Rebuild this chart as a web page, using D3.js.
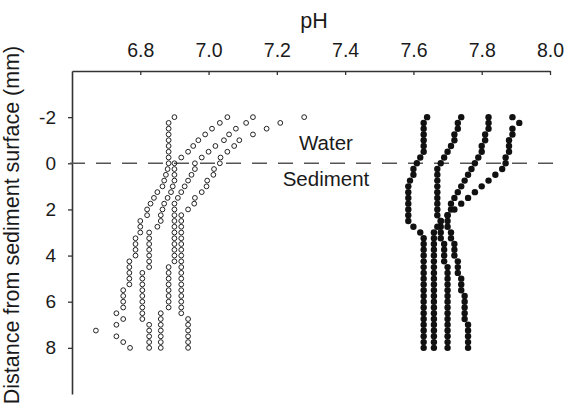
<!DOCTYPE html>
<html>
<head>
<meta charset="utf-8">
<script src="https://cdn.jsdelivr.net/npm/d3@7"></script>
<style>
  body { margin: 0; background: #fff; }
  svg { display: block; font-family: "Liberation Sans", Arial, sans-serif; }
</style>
</head>
<body>
<svg id="chart" width="568" height="410"></svg>
<script>
// depth of each reading (mm), same for every profile
const depths = [-2, -1.75, -1.5, -1.25, -1, -0.75, -0.5, -0.25, 0, 0.25, 0.5, 0.75, 1, 1.25, 1.5, 1.75, 2, 2.25, 2.5, 2.75, 3, 3.25, 3.5, 3.75, 4, 4.25, 4.5, 4.75, 5, 5.25, 5.5, 5.75, 6, 6.25, 6.5, 6.75, 7, 7.25, 7.5, 7.75, 8];

// open circles (one array per profile)
const open1 = [6.90, 6.883, 6.883, 6.883, 6.883, 6.883, 6.883, 6.883, 6.883, 6.88, 6.875, 6.87, 6.865, 6.85, 6.84, 6.83, 6.82, 6.82, 6.80, 6.80, 6.80, 6.786, 6.786, 6.786, 6.786, 6.768, 6.768, 6.768, 6.768, 6.768, 6.75, 6.75, 6.75, 6.75, 6.73, 6.75, 6.73, 6.67, 6.73, 6.75, 6.77];
const open2 = [7.055, 7.033, 7.01, 6.99, 6.97, 6.955, 6.94, 6.92, 6.90, 6.90, 6.90, 6.90, 6.895, 6.89, 6.88, 6.87, 6.865, 6.86, 6.86, 6.85, 6.826, 6.826, 6.826, 6.826, 6.826, 6.826, 6.826, 6.806, 6.806, 6.806, 6.806, 6.806, 6.806, 6.806, 6.806, 6.806, 6.826, 6.826, 6.826, 6.826, 6.826];
const open3 = [7.13, 7.11, 7.08, 7.06, 7.045, 7.02, 7.0, 6.98, 6.96, 6.96, 6.95, 6.94, 6.93, 6.92, 6.91, 6.90, 6.90, 6.90, 6.90, 6.90, 6.90, 6.90, 6.90, 6.90, 6.90, 6.90, 6.883, 6.883, 6.883, 6.883, 6.883, 6.883, 6.883, 6.883, 6.86, 6.86, 6.86, 6.86, 6.86, 6.86, 6.86];
const open4 = [7.28, 7.21, 7.17, 7.13, 7.09, 7.075, 7.055, 7.035, 7.033, 7.016, 7.014, 6.996, 6.994, 6.98, 6.96, 6.958, 6.94, 6.92, 6.92, 6.92, 6.92, 6.92, 6.92, 6.92, 6.92, 6.92, 6.92, 6.92, 6.92, 6.92, 6.92, 6.92, 6.92, 6.92, 6.92, 6.94, 6.94, 6.94, 6.94, 6.94, 6.94];

// filled circles
const filled1 = [7.64, 7.63, 7.63, 7.63, 7.63, 7.63, 7.63, 7.62, 7.61, 7.60, 7.60, 7.59, 7.585, 7.585, 7.585, 7.585, 7.585, 7.585, 7.585, 7.60, 7.62, 7.63, 7.63, 7.63, 7.63, 7.63, 7.63, 7.63, 7.63, 7.63, 7.63, 7.63, 7.63, 7.63, 7.63, 7.63, 7.63, 7.63, 7.63, 7.63, 7.63];
const filled2 = [7.74, 7.73, 7.73, 7.72, 7.72, 7.71, 7.70, 7.69, 7.68, 7.67, 7.67, 7.67, 7.67, 7.67, 7.67, 7.67, 7.67, 7.67, 7.68, 7.68, 7.68, 7.68, 7.69, 7.69, 7.69, 7.69, 7.70, 7.70, 7.70, 7.70, 7.70, 7.70, 7.70, 7.70, 7.70, 7.70, 7.70, 7.70, 7.70, 7.70, 7.70];
const filled3 = [7.82, 7.82, 7.82, 7.81, 7.81, 7.80, 7.80, 7.79, 7.78, 7.77, 7.76, 7.75, 7.74, 7.73, 7.72, 7.71, 7.71, 7.70, 7.70, 7.70, 7.71, 7.71, 7.72, 7.72, 7.72, 7.73, 7.73, 7.73, 7.74, 7.74, 7.74, 7.75, 7.75, 7.75, 7.75, 7.75, 7.76, 7.76, 7.76, 7.76, 7.76];
const filled4 = [7.89, 7.91, 7.89, 7.89, 7.88, 7.88, 7.88, 7.87, 7.87, 7.86, 7.84, 7.82, 7.80, 7.78, 7.76, 7.74, 7.72, 7.70, 7.68, 7.67, 7.66, 7.66, 7.66, 7.66, 7.66, 7.66, 7.66, 7.66, 7.66, 7.66, 7.66, 7.66, 7.66, 7.66, 7.66, 7.66, 7.66, 7.66, 7.66, 7.66, 7.66];

const openProfiles = [open1, open2, open3, open4];
const filledProfiles = [filled1, filled2, filled3, filled4];

const xTicks = [6.8, 7.0, 7.2, 7.4, 7.6, 7.8, 8.0];
const yTicks = [-2, 0, 2, 4, 6, 8];

const svg = d3.select("#chart");

const x = d3.scaleLinear().domain([6.6, 8.0]).range([72, 550]);
const y = d3.scaleLinear().domain([-4, 10]).range([71, 394]);

// x axis on top
const xAxis = svg.append("g")
  .attr("transform", `translate(0,${y(-4)})`)
  .call(d3.axisTop(x).tickValues(xTicks).tickFormat(d3.format(".1f")).tickSizeInner(-4).tickSizeOuter(0).tickPadding(14));
xAxis.select(".domain").attr("stroke", "#333").attr("stroke-width", 1.6);
xAxis.selectAll(".tick line").attr("stroke", "#333").attr("stroke-width", 1.3);
xAxis.selectAll("text").attr("font-size", 19.5).attr("fill", "#1a1a1a");

// y axis
const yAxis = svg.append("g")
  .attr("transform", `translate(${x(6.6)},0)`)
  .call(d3.axisLeft(y).tickValues(yTicks).tickFormat((d) => String(d)).tickSizeInner(4).tickSizeOuter(0).tickPadding(12));
yAxis.select(".domain").attr("stroke", "#333").attr("stroke-width", 1.6);
yAxis.selectAll(".tick line").attr("stroke", "#333").attr("stroke-width", 1.3);
yAxis.selectAll("text").attr("font-size", 19).attr("fill", "#1a1a1a");

// axis titles
svg.append("text")
  .attr("x", 314).attr("y", 28)
  .attr("text-anchor", "middle")
  .attr("font-size", 21.5).attr("fill", "#1a1a1a")
  .text("pH");

svg.append("text")
  .attr("transform", "translate(19,225) rotate(-90)")
  .attr("text-anchor", "middle")
  .attr("font-size", 21.5).attr("fill", "#1a1a1a")
  .text("Distance from sediment surface (mm)");

// sediment surface
svg.append("line")
  .attr("x1", 70).attr("x2", 553)
  .attr("y1", y(0)).attr("y2", y(0))
  .attr("stroke", "#555").attr("stroke-width", 1.5)
  .attr("stroke-dasharray", "15,11");

svg.append("text")
  .attr("x", 326).attr("y", 150)
  .attr("text-anchor", "middle")
  .attr("font-size", 20.5).attr("fill", "#1a1a1a")
  .text("Water");
svg.append("text")
  .attr("x", 326).attr("y", 186)
  .attr("text-anchor", "middle")
  .attr("font-size", 20.5).attr("fill", "#1a1a1a")
  .text("Sediment");

// points
const toPts = (arr) => arr.map((v, i) => ({ ph: v, d: depths[i] }));

svg.append("g")
  .selectAll("circle")
  .data(openProfiles.flatMap(toPts))
  .join("circle")
  .attr("cx", (d) => x(d.ph))
  .attr("cy", (d) => y(d.d))
  .attr("r", 2.4)
  .attr("fill", "none")
  .attr("stroke", "#222")
  .attr("stroke-width", 1);

svg.append("g")
  .selectAll("circle")
  .data(filledProfiles.flatMap(toPts))
  .join("circle")
  .attr("cx", (d) => x(d.ph))
  .attr("cy", (d) => y(d.d))
  .attr("r", 3.2)
  .attr("fill", "#111");
</script>
</body>
</html>
